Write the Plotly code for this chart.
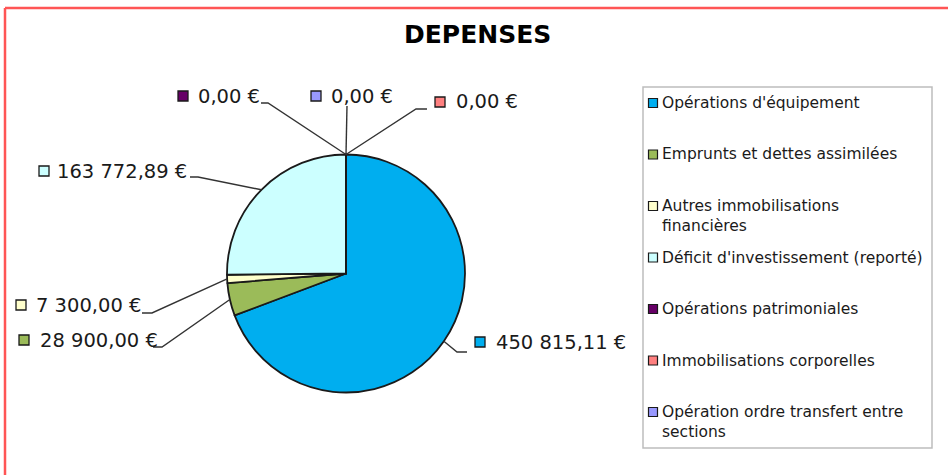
import plotly.graph_objects as go
import math

# ---------------- data ----------------
categories = [
    "Opérations d'équipement",
    "Emprunts et dettes assimilées",
    "Autres immobilisations financières",
    "Déficit d'investissement (reporté)",
    "Opérations patrimoniales",
    "Immobilisations corporelles",
    "Opération ordre transfert entre sections",
]
legend_labels = [
    "Opérations d'équipement",
    "Emprunts et dettes assimilées",
    "Autres immobilisations<br>financières",
    "Déficit d'investissement (reporté)",
    "Opérations patrimoniales",
    "Immobilisations corporelles",
    "Opération ordre transfert entre<br>sections",
]
values = [450815.11, 28900.00, 7300.00, 163772.89, 0.00, 0.00, 0.00]
colors = ["#00aeef", "#9bbb59", "#ffffcc", "#ccffff", "#660066", "#ff8080", "#9999ff"]
title_text = "DEPENSES"

# ---------------- layout constants (pixels) ----------------
W, H = 948, 475
CX, CY, R = 346.0, 273.5, 119.0
FONT = "DejaVu Sans"
OUTLINE = "#1a1a1a"
LEADER = "#333333"

# label placement: square centre, text left x, leader points (elbow, end)
label_place = [
    dict(sq=(480, 342), tx=494, pts=[(457, 352), (467, 352)]),
    dict(sq=(24, 340), tx=38, pts=[(162, 347), (153, 347)]),
    dict(sq=(21, 305), tx=34, pts=[(152, 313), (142, 313)]),
    dict(sq=(44, 171), tx=55, pts=[(198, 177), (190, 177)]),
    dict(sq=(183, 96), tx=196, pts=[(268, 103), (261, 103)]),
    dict(sq=(440, 102), tx=454, pts=[(416, 109), (427, 109)]),
    dict(sq=(316, 96), tx=329, pts=[(347, 106)]),
]
LEG_BOX = (643, 87, 932, 448)
LEG_Y0, LEG_PITCH = 103, 51.5
LEG_SQ_X, LEG_TX = 653, 660


def px(x):
    return x / W


def py(y):
    return 1 - y / H


def fmt(v):
    s = f"{v:,.2f}"
    return s.replace(",", "X").replace(".", ",").replace("X", " ") + " €"


fig = go.Figure()
fig.add_trace(go.Pie(
    labels=categories,
    values=values,
    sort=False,
    direction="clockwise",
    rotation=0,
    textinfo="none",
    hoverinfo="label+value",
    showlegend=False,
    marker=dict(colors=colors, line=dict(color=OUTLINE, width=1.8)),
    domain=dict(x=[px(CX - R), px(CX + R)], y=[py(CY + R), py(CY - R)]),
))

shapes = []
annotations = []

total = sum(values)
cum = 0.0
for i, v in enumerate(values):
    mid = (cum + v / 2) / total * 2 * math.pi
    cum += v
    ax = CX + R * math.sin(mid)
    ay = CY - R * math.cos(mid)
    lp = label_place[i]
    pts = [(ax, ay)] + lp["pts"]
    path = "M " + " L ".join(f"{px(x):.5f},{py(y):.5f}" for x, y in pts)
    shapes.append(dict(type="path", path=path, xref="paper", yref="paper",
                       line=dict(color=LEADER, width=1.4)))
    sx, sy = lp["sq"]
    shapes.append(dict(type="rect", xref="paper", yref="paper",
                       x0=px(sx - 5), x1=px(sx + 5), y0=py(sy + 5), y1=py(sy - 5),
                       fillcolor=colors[i], line=dict(color=OUTLINE, width=1.3)))
    annotations.append(dict(text=fmt(v), x=px(lp["tx"]), y=py(sy), xref="paper", yref="paper",
                            xanchor="left", yanchor="middle", showarrow=False,
                            font=dict(family=FONT, size=19.5, color="#1a1a1a")))

# legend box
lx0, ly0, lx1, ly1 = LEG_BOX
shapes.append(dict(type="rect", xref="paper", yref="paper",
                   x0=px(lx0), x1=px(lx1), y0=py(ly1), y1=py(ly0),
                   line=dict(color="#bdbdbd", width=1.5), fillcolor="rgba(0,0,0,0)", layer="below"))
for i, lab in enumerate(legend_labels):
    yc = LEG_Y0 + LEG_PITCH * i
    shapes.append(dict(type="rect", xref="paper", yref="paper",
                       x0=px(LEG_SQ_X - 4.5), x1=px(LEG_SQ_X + 4.5), y0=py(yc + 4.5), y1=py(yc - 4.5),
                       fillcolor=colors[i], line=dict(color=OUTLINE, width=1.2)))
    annotations.append(dict(text=lab, x=px(LEG_TX), y=py(yc - 11), xref="paper", yref="paper",
                            xanchor="left", yanchor="top", align="left", showarrow=False,
                            font=dict(family=FONT, size=15.5, color="#1a1a1a")))

# red frame (top and left edges visible)
shapes.append(dict(type="line", xref="paper", yref="paper", x0=px(5), x1=px(W + 5), y0=py(8), y1=py(8),
                   line=dict(color="#ff5555", width=2.5)))
shapes.append(dict(type="line", xref="paper", yref="paper", x0=px(5), x1=px(5), y0=py(8), y1=py(H + 5),
                   line=dict(color="#ff5555", width=2.5)))

# title
annotations.append(dict(text=f"<b>{title_text}</b>", x=px(477), y=py(34), xref="paper", yref="paper",
                        xanchor="center", yanchor="middle", showarrow=False,
                        font=dict(family=FONT, size=25, color="#000000")))

fig.update_layout(
    width=W, height=H,
    margin=dict(l=0, r=0, t=0, b=0),
    paper_bgcolor="white",
    plot_bgcolor="white",
    shapes=shapes,
    annotations=annotations,
)

fig.write_html("out.html", config={"displayModeBar": False},
               post_script="document.body.style.margin='0';document.body.style.overflow='hidden';")
